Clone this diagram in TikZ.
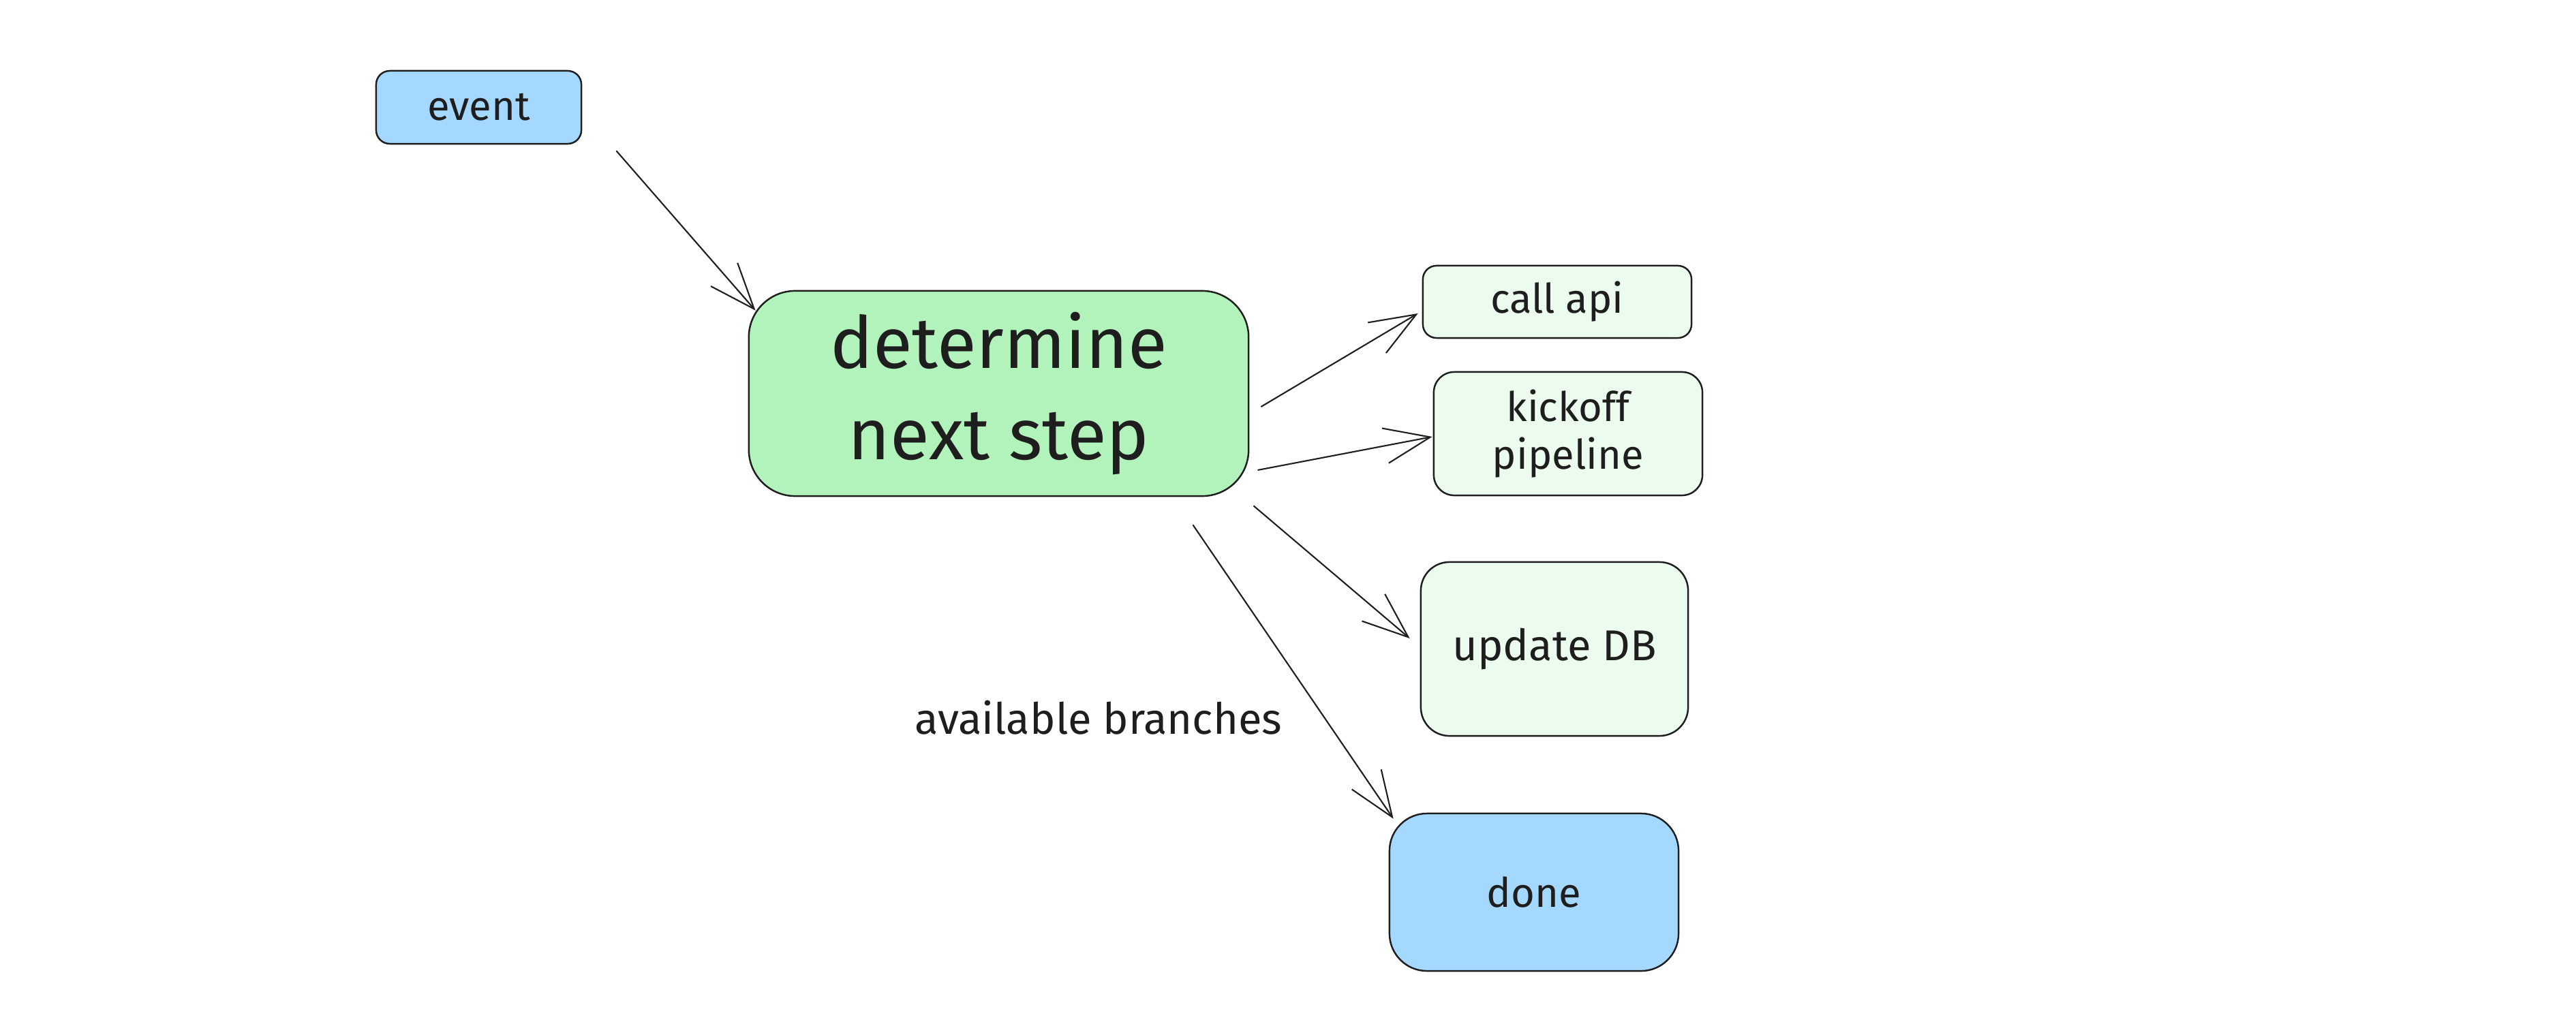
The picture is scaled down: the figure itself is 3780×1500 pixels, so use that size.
\documentclass[tikz,border=0pt]{standalone}
\usepackage{fontspec}
\setmainfont{Fira Sans}
\usetikzlibrary{arrows.meta}

\definecolor{ink}{HTML}{1E1E1E}
\definecolor{skyfill}{HTML}{A5D8FF}
\definecolor{mintfill}{HTML}{B2F2BB}
\definecolor{palefill}{HTML}{EBFBEE}

\begin{document}
\begin{tikzpicture}[x=0.01cm,y=-0.01cm,->,>={Straight Barb[length=0.67cm,width=0.52cm]},
  line width=0.6pt,draw=ink,text=ink,
  step node/.style={draw=ink,line width=0.7pt,inner sep=0pt,align=center,
  font=\fontsize{17}{20}\selectfont},
  big node/.style={step node,fill=mintfill,rounded corners=0.68cm,
  font=\fontsize{30}{38}\selectfont,minimum width=7.33cm,minimum height=3.01cm}]

  \useasboundingbox (0,0) rectangle (3780,1500);

  \node[step node,fill=skyfill,rounded corners=0.2cm,minimum width=3.01cm,
    minimum height=1.07cm] (event) at (702.5,157.5) {event};
  \node[big node] (NextStep) at (1465.5,577.5) {determine\\next step};
  \node[step node,fill=palefill,rounded corners=0.2cm,minimum width=3.94cm,
    minimum height=1.06cm] (CallApi) at (2285,443) {call api};
  \node[step node,fill=palefill,rounded corners=0.3cm,minimum width=3.94cm,
    minimum height=1.81cm] (Kickoff) at (2301,636.5) {kickoff\\pipeline};
  \node[step node,fill=palefill,rounded corners=0.42cm,minimum width=3.92cm,
    minimum height=2.55cm,font=\fontsize{18}{20}\selectfont] (UpdateDB) at (2281,952.5) {update DB};
  \node[step node,fill=skyfill,rounded corners=0.55cm,minimum width=4.24cm,
    minimum height=2.31cm] (done) at (2251,1309.5) {done};

  \node[font=\fontsize{18}{20}\selectfont] (branches) at (1612,1053) {available branches};

  \path
    ([shift={(50,9)}]event.south east) edge ([shift={(11,30)}]NextStep.north west)
    % branches to the right, top to bottom
    ([shift={(17,19.5)}]NextStep.east) edge ([shift={(-6,17)}]CallApi.west)
    ([shift={(12,112.5)}]NextStep.east) edge ([shift={(-1,4.5)}]Kickoff.west)
    ([shift={(6,13)}]NextStep.south east) edge ([shift={(-15,-15.5)}]UpdateDB.west)
    ([shift={(-83,41)}]NextStep.south east) edge ([shift={(7,9)}]done.north west);
\end{tikzpicture}
\end{document}
